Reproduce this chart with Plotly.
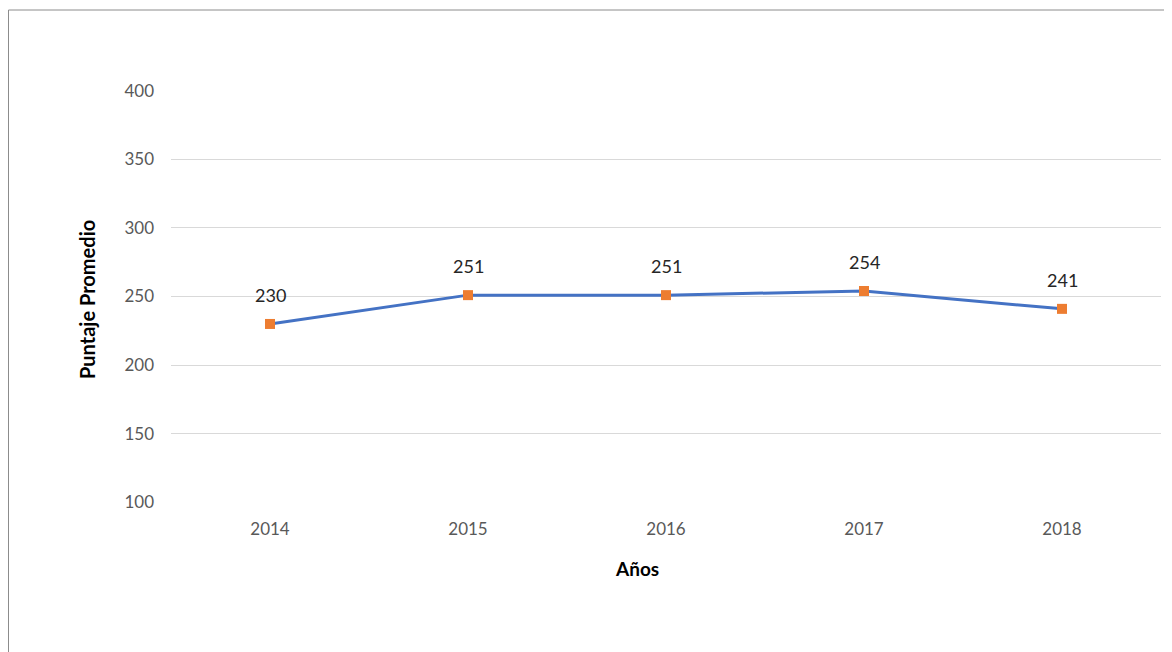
import plotly.graph_objects as go

years = ["2014", "2015", "2016", "2017", "2018"]
scores = [230, 251, 251, 254, 241]
y_ticks = [100, 150, 200, 250, 300, 350, 400]

FONT = "Lato"
OFF = 8  # page body margin
W, H = 1172 - OFF, 652 - OFF
L, R, T, B = 171 - OFF, 11, 90 - OFF, 149
pw, ph = W - L - R, H - T - B


def px_x(x):
    return (x - OFF - L) / pw


def px_y(y):
    return (H - B - (y - OFF)) / ph


fig = go.Figure()
fig.add_trace(go.Scatter(
    x=years, y=scores, mode="lines+markers",
    line=dict(color="#4472C4", width=3),
    marker=dict(symbol="square", size=10, color="#ED7D31"),
    hoverinfo="x+y", showlegend=False,
))

for i, v in enumerate(scores):
    fig.add_annotation(x=i, y=v, text=str(v), showarrow=False, yshift=29,
                       font=dict(family=FONT, size=18, color="#262626"))

# axis titles
fig.add_annotation(xref="paper", yref="paper", x=px_x(637), y=px_y(568),
                   xanchor="center", yanchor="middle",
                   text="<b>Años</b>", showarrow=False,
                   font=dict(family=FONT, size=19, color="#000000"))
fig.add_annotation(xref="paper", yref="paper", x=px_x(87), y=px_y(300),
                   xanchor="center", yanchor="middle",
                   text="<b>Puntaje Promedio</b>", showarrow=False, textangle=-90,
                   font=dict(family=FONT, size=20, color="#000000"))

# chart frame (left and top edges)
fig.add_shape(type="line", xref="paper", yref="paper", x0=px_x(8.5), x1=px_x(8.5),
              y0=px_y(10), y1=px_y(700), line=dict(color="#8c8c8c", width=1))
fig.add_shape(type="line", xref="paper", yref="paper", x0=px_x(8.5), x1=px_x(1200),
              y0=px_y(10), y1=px_y(10), line=dict(color="#8c8c8c", width=1))

fig.update_layout(
    width=W, height=H,
    margin=dict(l=L, r=R, t=T, b=B),
    paper_bgcolor="white", plot_bgcolor="white",
    font=dict(family=FONT),
    xaxis=dict(type="category", range=[-0.5, 4.5], showgrid=False, zeroline=False,
               showline=False, ticks="", ticklabelstandoff=14,
               tickfont=dict(family=FONT, size=17, color="#595959")),
    yaxis=dict(range=[99.6, 400.4], tickvals=y_ticks, showgrid=True, gridcolor="#d9d9d9",
               gridwidth=1, zeroline=False, showline=False, ticks="", ticklabelstandoff=16,
               tickfont=dict(family=FONT, size=17, color="#595959")),
)

fig.write_html("out.html")
